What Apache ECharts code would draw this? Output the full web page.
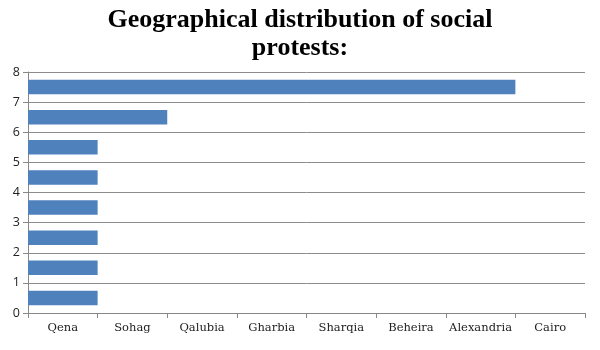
<!DOCTYPE html>
<html>
<head>
<meta charset="utf-8">
<script src="https://cdn.jsdelivr.net/npm/echarts@6/dist/echarts.min.js"></script>
<style>
html,body{margin:0;padding:0;background:#fff;}
#chart{width:600px;height:350px;}
</style>
</head>
<body>
<div id="chart"></div>
<script>
var titleText = 'Geographical distribution of social\nprotests:';
var categories = ['Qena', 'Sohag', 'Qalubia', 'Gharbia', 'Sharqia', 'Beheira', 'Alexandria', 'Cairo'];
var barRows = ['r1', 'r2', 'r3', 'r4', 'r5', 'r6', 'r7', 'r8'];
var barValues = [1, 1, 1, 1, 1, 1, 2, 7];
var yMin = 0, yMax = 8, yStep = 1;

var chart = echarts.init(document.getElementById('chart'), null, {renderer: 'canvas'});
chart.setOption({
  animation: false,
  backgroundColor: '#ffffff',
  title: {
    text: titleText,
    left: 'center',
    top: 1,
    textStyle: {
      fontFamily: 'Liberation Serif',
      fontWeight: 'bold',
      fontSize: 26,
      lineHeight: 28,
      color: '#000'
    }
  },
  grid: {left: 28, right: 15, top: 72, bottom: 37, containLabel: false},
  xAxis: [{
    type: 'category',
    data: categories,
    boundaryGap: true,
    position: 'bottom',
    axisLine: {show: true, lineStyle: {color: '#888', width: 1}},
    axisTick: {show: true, length: 5, interval: 0, lineStyle: {color: '#888'}},
    axisLabel: {fontFamily: 'DejaVu Serif', fontSize: 11.5, color: '#222', margin: 9, interval: 0},
    splitLine: {show: false}
  }, {
    type: 'value',
    min: 0,
    max: categories.length,
    show: false
  }],
  yAxis: [{
    type: 'value',
    min: yMin,
    max: yMax,
    interval: yStep,
    axisLine: {show: true, lineStyle: {color: '#888', width: 1}},
    axisTick: {show: true, length: 5, lineStyle: {color: '#888'}},
    axisLabel: {fontFamily: 'Open Sans', fontSize: 12.5, color: '#222', margin: 8},
    splitLine: {show: true, lineStyle: {color: '#8c8c8c', width: 1}}
  }, {
    type: 'category',
    data: barRows,
    show: false
  }],
  series: [{
    type: 'bar',
    xAxisIndex: 1,
    yAxisIndex: 1,
    data: barValues,
    barCategoryGap: '52%',
    itemStyle: {color: '#4F81BD'}
  }]
});
</script>
</body>
</html>
